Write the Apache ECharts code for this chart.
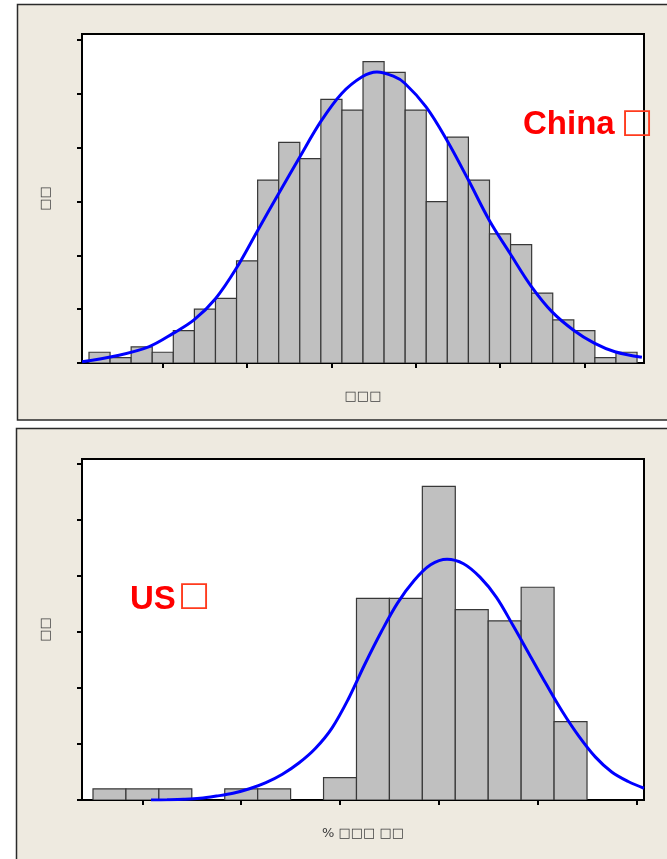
<!DOCTYPE html>
<html>
<head>
<meta charset="utf-8">
<script src="https://cdn.jsdelivr.net/npm/echarts@6/dist/echarts.min.js"></script>
<style>
  html, body { margin: 0; padding: 0; background: #ffffff; }
  #chart { width: 667px; height: 859px; }
</style>
</head>
<body>
<div id="chart"></div>
<script>
// China: frequency per bin; bin k is centred on axis value k (bin width = 1 unit)
const chinaCounts = [2, 1, 3, 2, 6, 10, 12, 19, 34, 41, 38, 49, 47, 56, 54, 47, 30, 42, 34, 24, 22, 13, 8, 6, 1, 2];
const chinaTicks = [4, 8, 12, 16, 20, 24];
const chinaYTicks = [0, 10, 20, 30, 40, 50, 60];
// fitted normal curve, sampled along the axis
const chinaFitX = [0.17, 1.75, 3.33, 4.49, 5.48, 6.51, 7.49, 8.47, 9.5, 10.5, 11.5, 12.49, 13.46, 14.16, 14.94, 15.48, 16.49, 17.48, 18.5, 19.48, 20.47, 21.49, 22.47, 23.49, 24.47, 25.45, 26.73];
const chinaFitY = [0.24, 1.3, 3.0, 5.5, 8.0, 12.0, 17.6, 24.4, 31.5, 38.3, 44.9, 50.1, 53.2, 54.1, 53.3, 52.0, 47.6, 41.4, 34.0, 26.6, 20.4, 14.2, 9.5, 6.1, 3.7, 2.1, 1.06];

// US: frequency per bin
const usCounts = [1, 1, 1, 0, 1, 1, 0, 2, 18, 18, 28, 17, 16, 19, 7];
const usTicks = [2, 5, 8, 11, 14, 17];
const usYTicks = [0, 5, 10, 15, 20, 25, 30];
const usFitX = [2.26, 2.75, 3.25, 3.75, 4.25, 4.75, 5.25, 5.75, 6.25, 6.75, 7.25, 7.75, 8.25, 8.75, 9.25, 9.75, 10.25, 10.75, 11.25, 11.75, 12.25, 12.75, 13.25, 13.75, 14.25, 14.75, 15.25, 15.75, 16.25, 16.75, 17.23];
const usFitY = [0, 0.02, 0.06, 0.15, 0.35, 0.6, 1.0, 1.55, 2.3, 3.3, 4.6, 6.4, 9.0, 12.1, 15.0, 17.6, 19.6, 21.0, 21.5, 21.1, 19.9, 18.1, 15.6, 13.0, 10.4, 7.9, 5.7, 3.85, 2.5, 1.65, 1.05];

const yName = '□□';
const chinaXName = '□□□';
const usXName = '% □□□ □□';
const chinaLabel = 'China';
const usLabel = 'US';
const missingGlyph = '□';

const chart = echarts.init(document.getElementById('chart'), null, { renderer: 'canvas' });

const nameStyle = { color: '#3c3c3c', fontSize: 13, fontFamily: 'DejaVu Sans' };

function xAxisCfg(gridIndex, min, max, ticks, name) {
  return {
    type: 'value', gridIndex, min, max,
    axisLine: { show: true, onZero: false, lineStyle: { color: '#000', width: 2 } },
    axisTick: { show: true, length: 5, customValues: ticks, lineStyle: { color: '#000', width: 2 } },
    axisLabel: { show: false },
    splitLine: { show: false },
    name, nameLocation: 'middle', nameGap: 27, nameTextStyle: nameStyle
  };
}
function yAxisCfg(gridIndex, max, ticks) {
  return {
    type: 'value', gridIndex, min: 0, max,
    axisLine: { show: true, lineStyle: { color: '#000', width: 2 } },
    axisTick: { show: true, length: 5, customValues: ticks, lineStyle: { color: '#000', width: 2 } },
    axisLabel: { show: false },
    splitLine: { show: false },
    name: yName, nameLocation: 'middle', nameGap: 30, nameRotate: 90, nameTextStyle: nameStyle
  };
}

function histSeries(idx, counts) {
  return {
    type: 'custom', xAxisIndex: idx, yAxisIndex: idx,
    data: counts.map((c, i) => [i + 1, c]),
    clip: true,
    renderItem: function (params, api) {
      const k = api.value(0), c = api.value(1);
      if (!c) return null;
      const p0 = api.coord([k - 0.5, 0]);
      const p1 = api.coord([k + 0.5, c]);
      return {
        type: 'rect',
        shape: { x: p0[0], y: p1[1], width: p1[0] - p0[0], height: p0[1] - p1[1] },
        style: { fill: '#c0c0c0', stroke: '#383838', lineWidth: 1.2 }
      };
    }
  };
}
function fitSeries(idx, xs, ys) {
  return {
    type: 'line', xAxisIndex: idx, yAxisIndex: idx,
    data: xs.map((x, i) => [x, ys[i]]),
    smooth: 0.35, showSymbol: false, clip: true, z: 5,
    lineStyle: { color: '#0000ff', width: 3 }
  };
}

const option = {
  animation: false,
  backgroundColor: '#ffffff',
  grid: [
    { left: 82, top: 34, width: 562, height: 329, show: true, backgroundColor: '#ffffff', borderColor: '#000', borderWidth: 2 },
    { left: 82, top: 459, width: 562, height: 341, show: true, backgroundColor: '#ffffff', borderColor: '#000', borderWidth: 2 }
  ],
  xAxis: [
    xAxisCfg(0, 0.168, 26.83, chinaTicks, chinaXName),
    xAxisCfg(1, 0.166, 17.23, usTicks, usXName)
  ],
  yAxis: [
    yAxisCfg(0, 61.15, chinaYTicks),
    yAxisCfg(1, 30.45, usYTicks)
  ],
  series: [
    histSeries(0, chinaCounts),
    fitSeries(0, chinaFitX, chinaFitY),
    histSeries(1, usCounts),
    fitSeries(1, usFitX, usFitY)
  ],
  graphic: [
    { type: 'rect', z: -100, silent: true, shape: { x: 17.5, y: 4.5, width: 700, height: 415.5 },
      style: { fill: '#eeeae0', stroke: '#2a2a2a', lineWidth: 1.5 } },
    { type: 'rect', z: -100, silent: true, shape: { x: 16.5, y: 428.5, width: 700, height: 460 },
      style: { fill: '#eeeae0', stroke: '#2a2a2a', lineWidth: 1.5 } },
    { type: 'text', z: 100, x: 523, y: 108,
      style: { text: chinaLabel, fill: '#ff0000', font: 'bold 33px "Liberation Sans", Arial, sans-serif', verticalAlign: 'top' } },
    { type: 'text', z: 100, x: 621, y: 106,
      style: { text: missingGlyph, fill: '#ff3b1e', font: '34px "DejaVu Sans", sans-serif', verticalAlign: 'top' } },
    { type: 'text', z: 100, x: 130, y: 583,
      style: { text: usLabel, fill: '#ff0000', font: 'bold 33px "Liberation Sans", Arial, sans-serif', verticalAlign: 'top' } },
    { type: 'text', z: 100, x: 178, y: 579,
      style: { text: missingGlyph, fill: '#ff3b1e', font: '34px "DejaVu Sans", sans-serif', verticalAlign: 'top' } }
  ]
};
chart.setOption(option);
</script>
</body>
</html>
